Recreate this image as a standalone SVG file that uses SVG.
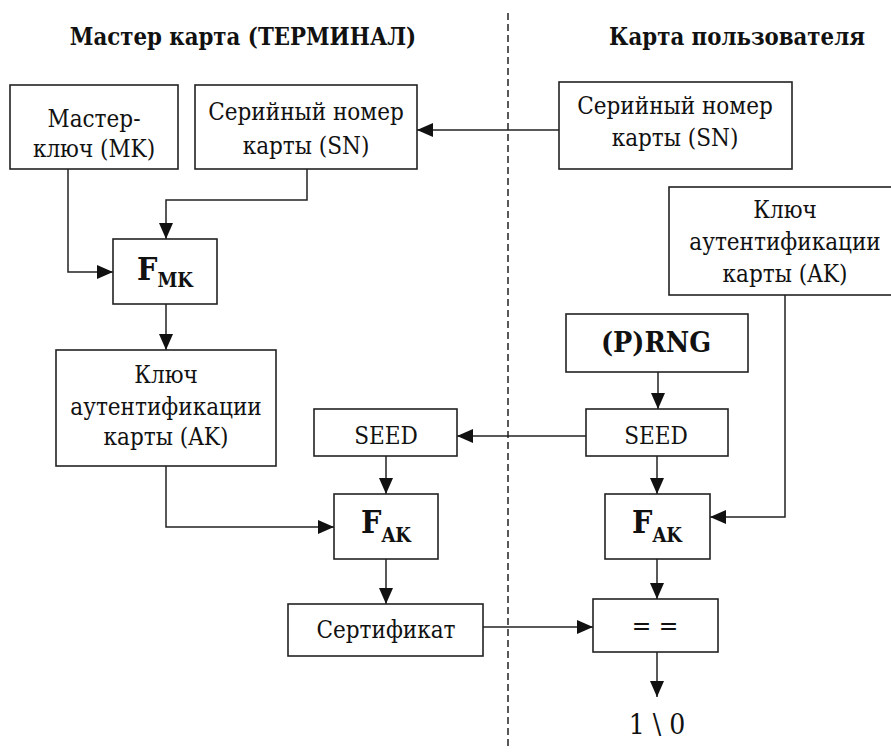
<svg xmlns="http://www.w3.org/2000/svg" width="891" height="753" viewBox="0 0 891 753">
<style>
.box{fill:#fff;stroke:#222;stroke-width:1.6}
text{font-family:'DejaVu Serif Condensed','DejaVu Serif',serif;font-stretch:condensed}
.t{font-size:24px;fill:#111;text-anchor:middle}
.b{font-weight:bold}
.h{font-size:23.7px;font-weight:bold;fill:#111;text-anchor:middle}
.c{fill:none;stroke:#222;stroke-width:1.5}
</style>
<defs>
<marker id="a" markerUnits="userSpaceOnUse" markerWidth="16" markerHeight="14" refX="16" refY="7" orient="auto">
<path d="M0,0 L16,7 L0,14 z" fill="#111"/>
</marker>
</defs>
<rect width="891" height="753" fill="#fff"/>
<g id="divider"><path d="M508,13 V750" stroke="#222" stroke-width="1.5" stroke-dasharray="7,4" fill="none"/></g>
<g id="titles">
<text class="h" x="243" y="45">Мастер карта (ТЕРМИНАЛ)</text>
<text class="h" x="737" y="45">Карта пользователя</text>
</g>
<g id="connectors">
<path class="c" d="M559,130 H417" marker-end="url(#a)"/>
<path class="c" d="M68,169 V272 H113" marker-end="url(#a)"/>
<path class="c" d="M307,169 V200 H166 V239" marker-end="url(#a)"/>
<path class="c" d="M166,304 V350" marker-end="url(#a)"/>
<path class="c" d="M166,466 V527 H334" marker-end="url(#a)"/>
<path class="c" d="M586,436 H457" marker-end="url(#a)"/>
<path class="c" d="M658,372 V409" marker-end="url(#a)"/>
<path class="c" d="M386,456 V494" marker-end="url(#a)"/>
<path class="c" d="M657,456 V494" marker-end="url(#a)"/>
<path class="c" d="M785,295 V517 H710" marker-end="url(#a)"/>
<path class="c" d="M386,559 V604" marker-end="url(#a)"/>
<path class="c" d="M483,627 H593" marker-end="url(#a)"/>
<path class="c" d="M657,559 V599" marker-end="url(#a)"/>
<path class="c" d="M657,652 V697" marker-end="url(#a)"/>
</g>
<g id="mk"><rect class="box" x="10" y="85" width="168" height="84"/>
<text class="t" x="94" y="127">Мастер-</text><text class="t" x="94" y="157">ключ (MK)</text></g>
<g id="sn-left"><rect class="box" x="195" y="85" width="222" height="84"/>
<text class="t" x="306" y="120">Серийный номер</text><text class="t" x="306" y="154">карты (SN)</text></g>
<g id="sn-right"><rect class="box" x="559" y="82" width="233" height="87"/>
<text class="t" x="675" y="114">Серийный номер</text><text class="t" x="675" y="146">карты (SN)</text></g>
<g id="ak-right"><rect class="box" x="669" y="187" width="232" height="108"/>
<text class="t" x="785" y="218">Ключ</text><text class="t" x="785" y="250">аутентификации</text><text class="t" x="785" y="282">карты (AK)</text></g>
<g id="fmk"><rect class="box" x="113" y="239" width="104" height="65"/>
<text class="t b" x="165" y="280" style="font-size:32px">F<tspan dy="7" style="font-size:20px">MK</tspan></text></g>
<g id="ak-left"><rect class="box" x="56" y="350" width="220" height="116"/>
<text class="t" x="166" y="383">Ключ</text><text class="t" x="166" y="415">аутентификации</text><text class="t" x="166" y="445">карты (AK)</text></g>
<g id="prng"><rect class="box" x="566" y="314" width="182" height="58"/>
<text class="t b" x="656" y="352" style="font-size:28.5px">(P)RNG</text></g>
<g id="seed-left"><rect class="box" x="314" y="409" width="143" height="47"/>
<text class="t" x="386" y="444">SEED</text></g>
<g id="seed-right"><rect class="box" x="586" y="409" width="142" height="47"/>
<text class="t" x="656" y="444">SEED</text></g>
<g id="fak-left"><rect class="box" x="334" y="494" width="104" height="65"/>
<text class="t b" x="386" y="533" style="font-size:32px">F<tspan dy="9" style="font-size:20px">AK</tspan></text></g>
<g id="fak-right"><rect class="box" x="605" y="494" width="105" height="65"/>
<text class="t b" x="657" y="533" style="font-size:32px">F<tspan dy="9" style="font-size:20px">AK</tspan></text></g>
<g id="cert"><rect class="box" x="288" y="604" width="195" height="52"/>
<text class="t" x="386" y="638">Сертификат</text></g>
<g id="eq"><rect class="box" x="593" y="599" width="125" height="53"/>
<text class="t" x="655" y="635" style="font-size:26px">= =</text></g>
<g id="out"><text class="t" x="657" y="734" style="font-size:28px">1 \ 0</text></g>
</svg>
